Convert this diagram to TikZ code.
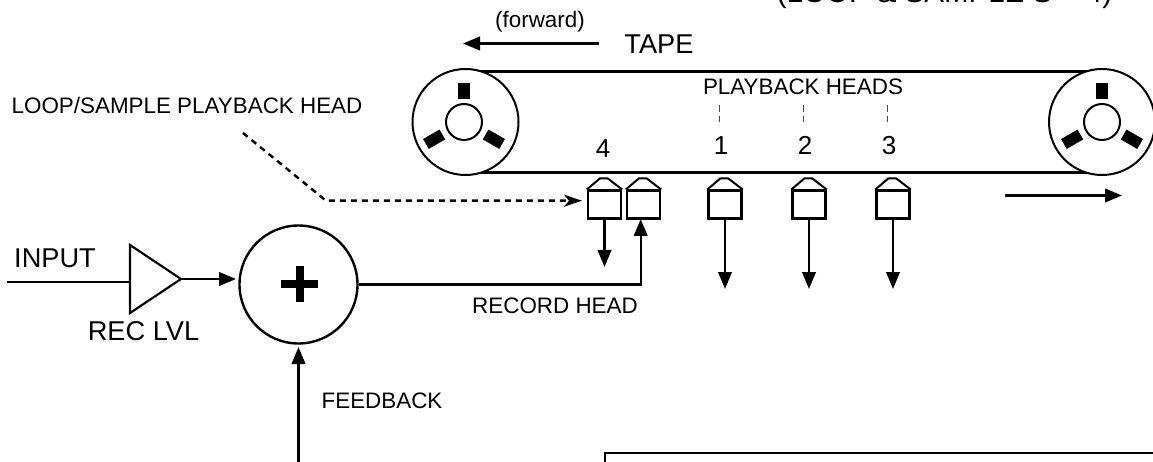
\documentclass[tikz,border=0pt]{standalone}
\usepackage{fontspec}
\setmainfont{Liberation Sans}
\usetikzlibrary{arrows.meta}
\tikzset{
  x=1pt,y=-1pt,
  wire/.style={line width=2.4pt,black},
  arr/.style={wire,-{Triangle[length=17pt,width=13.5pt]}},
  small/.style={font=\fontsize{22.4}{24}\selectfont,inner sep=0pt,anchor=base},
  big/.style={font=\fontsize{27.2}{30}\selectfont,inner sep=0pt,anchor=base},
  digit/.style={font=\fontsize{26}{28}\selectfont,inner sep=0pt,anchor=base},
  tick/.style={line width=0.7pt,dash pattern=on 7pt off 4pt,black!70},
  headbox/.style={draw,line width=2.4pt,minimum width=33pt,minimum height=28pt,inner sep=0pt,anchor=north},
  reel/.style={circle,draw,line width=2pt,minimum size=106pt,inner sep=0pt,fill=white},
}
\newcommand{\reelat}[2]{%
  \begin{scope}[shift={(#1,#2)}]
    \draw[line width=2pt] (0,0) circle[radius=18];
    \fill[black] (-5.7,-39) rectangle (5.7,-23);
    \foreach \a in {120,240}{
      \fill[rotate=\a,black] (-5.7,-44) rectangle (5.7,-25);
    }
  \end{scope}}
\newcommand{\headat}[2]{%
  \node[headbox] (#1) at (#2,189.5) {};
  \draw[line width=2pt] (#1.north west) -- ++(13,-11) -- ++(8,0) -- (#1.north east);
}
\begin{document}
\begin{tikzpicture}
\useasboundingbox[clip] (0,0) rectangle (1153,462);
% tape
\draw[line width=2.4pt] (464,71.5) -- (1101,71.5);
\draw[line width=2.4pt] (464,172.5) -- (1101,172.5);
\node[reel] (reelL) at (465.5,122) {};
\node[reel] (reelR) at (1102,122) {};
\reelat{464}{122}
\reelat{1102}{122}
% top texts
\node[small] (fwd) at (540,27.5) {(forward)};
\node[big] (tape) at (659,54) {TAPE};
\node[big,font=\fontsize{29.5}{32}\selectfont] (loopeq) at (944.5,3) {(LOOP \& SAMPLE S = 4)};
\coordinate (tapeA) at (599,43.5);
\coordinate (tapeB) at (463,43.5);
\draw[arr] (tapeA) -- (tapeB);
\coordinate (rA) at (1005,195.5);
\coordinate (rB) at (1122,195.5);
\draw[arr] (rA) -- (rB);
% labels
\node[small] (pbh) at (803,95) {PLAYBACK HEADS};
\node[small] (lsp) at (187,114) {LOOP/SAMPLE PLAYBACK HEAD};
\node[digit] (n4) at (603,158) {4};
\node[digit] (n1) at (721,155) {1};
\node[digit] (n2) at (805,155) {2};
\node[digit] (n3) at (889,155) {3};
\foreach \x in {719,803,887}{\draw[tick] (\x,105) -- (\x,122);}
% heads
\headat{h4}{604.5}
\headat{rec}{643.5}
\headat{h1}{725}
\headat{h2}{809}
\headat{h3}{893}
% head outputs
\coordinate (o4) at (604.5,267);
\coordinate (o1) at (725,289);
\coordinate (o2) at (809,289);
\coordinate (o3) at (893,289);
\draw[arr] (h4.south) -- (o4);
\draw[arr] (h1.south) -- (o1);
\draw[arr] (h2.south) -- (o2);
\draw[arr] (h3.south) -- (o3);
% dashed leader
\coordinate (d0) at (243,133);
\coordinate (d1) at (326,200.7);
\coordinate (d2) at (582,200.7);
\draw[line width=2.4pt,dash pattern=on 6pt off 5pt,-{Stealth[length=18pt,width=12pt,inset=5pt]}] (d0) -- (d1) -- (d2);
% summing
\node[circle,draw,line width=2.4pt,minimum size=118pt,inner sep=0pt] (sum) at (298.5,284.5) {};
\draw[line width=8pt] (299.5,266) -- (299.5,302) (281,284) -- (318,284);
% amp
\coordinate (t1) at (130,245);
\coordinate (t2) at (130,313);
\coordinate (t3) at (181,279);
\draw[line width=2.2pt,line join=miter] (t1) -- (t3) -- (t2) -- cycle;
\coordinate (inp) at (7,282);
\draw[wire] (inp) -- (130,282);
\coordinate (sumin) at (236,279);
\draw[arr] (t3) -- (sumin);
\node[big] (input) at (55,268) {INPUT};
\node[big] (reclvl) at (143.5,340) {REC LVL};
% record path
\coordinate (rc) at (640.7,284.5);
\coordinate (recin) at (640.7,219);
\draw[arr] (sum.east) -- (rc) -- (recin);
\node[small] (rech) at (555,313) {RECORD HEAD};
% feedback
\coordinate (fb) at (298.5,462);
\coordinate (sumb) at (298.5,347);
\draw[arr] (fb) -- (sumb);
\node[small] (fbl) at (382,408) {FEEDBACK};
% box
\node[draw,line width=1.5pt,anchor=north west,minimum width=570pt,minimum height=20pt,inner sep=0pt] (bx) at (604,452) {};
\end{tikzpicture}
\end{document}
